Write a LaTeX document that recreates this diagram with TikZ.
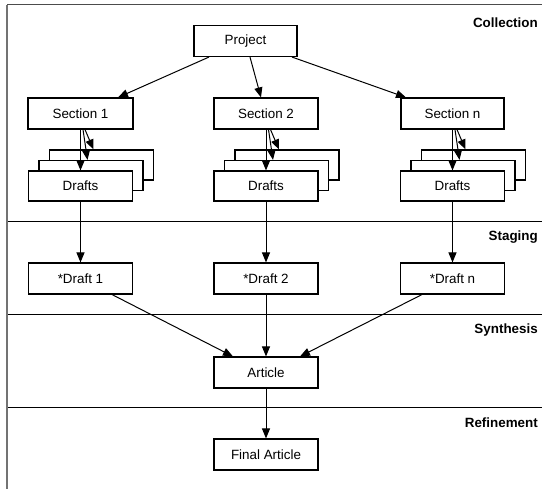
\documentclass[tikz,border=0pt]{standalone}
\usepackage{fontspec}
\setmainfont{Liberation Sans}
\usetikzlibrary{arrows.meta}
\begin{document}
\begin{tikzpicture}[x=1pt,y=-1pt,
  box/.style={draw=black,line width=1.1pt,fill=white,inner sep=0pt,minimum width=104pt,minimum height=31pt,font=\fontsize{13.4}{16}\selectfont},
  lane/.style={font=\bfseries\fontsize{13.4}{16}\selectfont,anchor=east,inner sep=0pt},
  sep/.style={line width=1pt,black},
  arr/.style={line width=1pt,-{Triangle[length=10pt,width=8pt]}},
  ln/.style={line width=1pt}]
\useasboundingbox (0,0) rectangle (542,489);
% frame and lane separators
\coordinate (tl) at (7.3,4.7);
\coordinate (tr) at (542,4.7);
\coordinate (bl) at (7.3,489);
\draw[line width=1.3pt,black!70] (tr) -- (tl);
\draw[line width=2pt,black!55] (tl) -- (bl);
\coordinate (a1) at (8,222); \coordinate (b1) at (542,222);
\coordinate (a2) at (8,315); \coordinate (b2) at (542,315);
\coordinate (a3) at (8,408); \coordinate (b3) at (542,408);
\draw[sep] (a1) -- (b1);
\draw[sep] (a2) -- (b2);
\draw[sep] (a3) -- (b3);
% lane labels
\node[lane] (lc) at (538,23) {Collection};
\node[lane] (ls) at (538,237) {Staging};
\node[lane] (ly) at (538,330) {Synthesis};
\node[lane] (lr) at (538,423) {Refinement};
% nodes
\node[box,minimum width=103pt] (p) at (245.5,41) {Project};
\node[box,minimum width=105pt] (s1) at (80.5,113.5) {Section 1};
\node[box] (s2) at (266,113.5) {Section 2};
\node[box,minimum width=103pt] (sn) at (452.5,113.5) {Section n};
% draft stacks
\foreach \n/\x in {1/80.5,2/266,n/452.5}{
  \node[box,minimum height=30pt] (dc\n) at (\x+21,165) {};
  \node[box,minimum height=30pt] (db\n) at (\x+10.5,175.5) {};
  \node[box,minimum height=30pt] (da\n) at (\x,186) {Drafts};
}
\node[box] (t1) at (80.5,278.5) {*Draft 1};
\node[box] (t2) at (266,278.5) {*Draft 2};
\node[box] (tn) at (452.5,278.5) {*Draft n};
\node[box] (art) at (266,372.5) {Article};
\node[box] (fin) at (266,454.5) {Final Article};
% connectors
\draw[arr] ([xshift=-36.5pt]p.south) -- ([xshift=37.5pt]s1.north);
\draw[arr] ([xshift=4.5pt]p.south) -- ([xshift=-5pt]s2.north);
\draw[arr] ([xshift=46.5pt]p.south) -- ([xshift=-46.5pt]sn.north);
\foreach \s/\n in {s1/1,s2/2,sn/n}{
  \draw[arr] (\s.south) -- (da\n.north);
  \draw[arr] ([xshift=2.5pt]\s.south) -- ([xshift=-3.5pt]db\n.north);
  \draw[arr] ([xshift=4.5pt]\s.south) -- ([xshift=-8pt]dc\n.north);
}
\draw[arr] (da1.south) -- (t1.north);
\draw[arr] (da2.south) -- (t2.north);
\draw[arr] (dan.south) -- (tn.north);
\draw[arr] ([xshift=31.5pt]t1.south) -- ([xshift=-33pt]art.north);
\draw[arr] (t2.south) -- (art.north);
\draw[arr] ([xshift=-30.5pt]tn.south) -- ([xshift=34pt]art.north);
\draw[arr] (art.south) -- (fin.north);
\end{tikzpicture}
\end{document}
